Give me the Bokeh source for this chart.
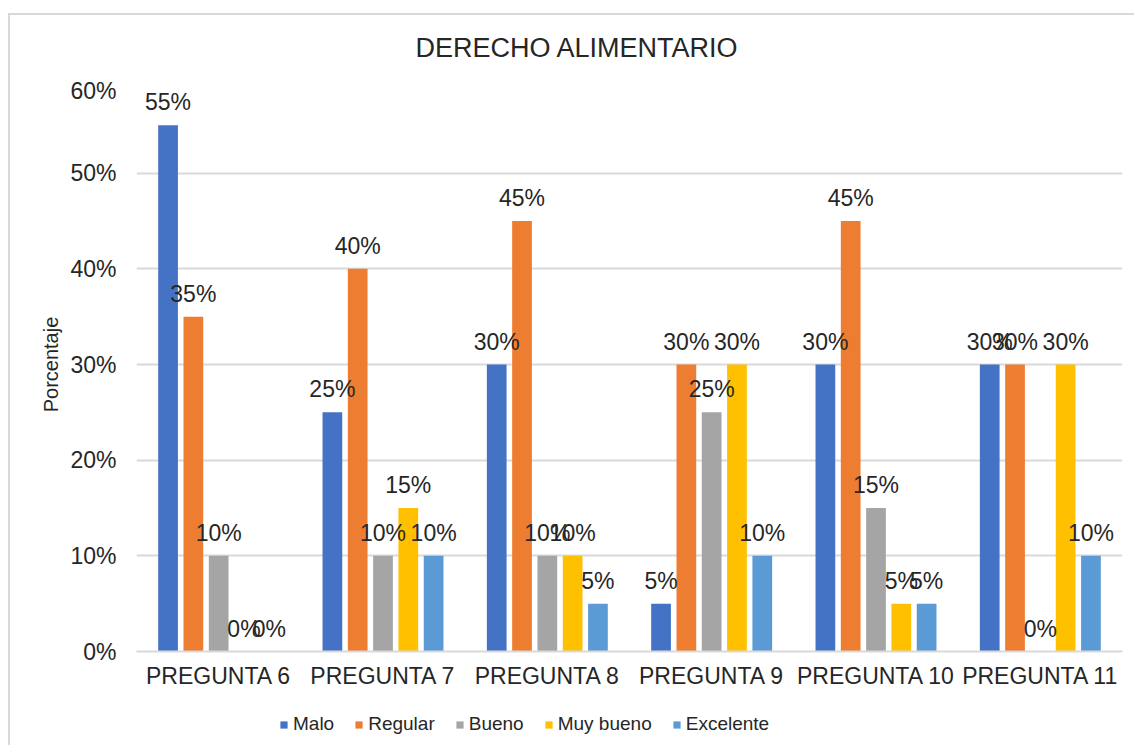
from bokeh.plotting import figure
from bokeh.layouts import column
from bokeh.core.properties import value
from bokeh.models import (ColumnDataSource, FactorRange, LabelSet, Label, Legend, LegendItem,
                          NumeralTickFormatter, FixedTicker, Range1d)
from bokeh.transform import dodge
from bokeh.embed import file_html
from bokeh.resources import INLINE

categories = ["PREGUNTA 6", "PREGUNTA 7", "PREGUNTA 8", "PREGUNTA 9", "PREGUNTA 10", "PREGUNTA 11"]
series_names = ["Malo", "Regular", "Bueno", "Muy bueno", "Excelente"]
malo = [0.55, 0.25, 0.30, 0.05, 0.30, 0.30]
regular = [0.35, 0.40, 0.45, 0.30, 0.45, 0.30]
bueno = [0.10, 0.10, 0.10, 0.25, 0.15, 0.00]
muy_bueno = [0.00, 0.15, 0.10, 0.30, 0.05, 0.30]
excelente = [0.00, 0.10, 0.05, 0.10, 0.05, 0.10]
y_ticks = [0.0, 0.1, 0.2, 0.3, 0.4, 0.5, 0.6]
title_text = "DERECHO ALIMENTARIO"
y_label = "Porcentaje"

colors = ["#4472C4", "#ED7D31", "#A5A5A5", "#FFC000", "#5B9BD5"]
FONT = "Liberation Sans"
TXT = "#262626"
W = 1124


def strip(h):
    f = figure(width=W, height=h, output_backend="svg", toolbar_location=None, title=None,
               x_axis_location=None, y_axis_location=None,
               min_border_left=0, min_border_right=0, min_border_top=0, min_border_bottom=0)
    f.outline_line_color = None
    f.xgrid.grid_line_color = None
    f.ygrid.grid_line_color = None
    return f


# title strip
t = strip(62)
t.add_layout(Label(x=279, y=30, x_units="screen", y_units="screen", text=title_text,
                   text_align="left", text_baseline="middle", text_font=FONT,
                   text_font_size="27px", text_color=TXT))

# main chart
p = figure(x_range=FactorRange(*categories, range_padding=0), y_range=Range1d(0, 0.6),
           width=W, height=628, output_backend="svg", toolbar_location=None, title=None,
           min_border_left=126, min_border_right=W - 1112, min_border_top=0, min_border_bottom=54)
p.outline_line_color = None

series = [malo, regular, bueno, muy_bueno, excelente]
offsets = [-0.308, -0.154, 0.0, 0.154, 0.308]
for name, vals, col, off in zip(series_names, series, colors, offsets):
    src = ColumnDataSource(dict(cat=categories, val=vals,
                                lab=[f"{round(v*100)}%" for v in vals]))
    p.vbar(x=dodge("cat", off, range=p.x_range), top="val", width=0.12, source=src,
           fill_color=col, line_color=None)
    ls = LabelSet(x=dodge("cat", off, range=p.x_range), y="val", text="lab", source=src,
                  text_align="center", text_baseline="middle", y_offset=23,
                  text_font=value(FONT), text_font_size=value("23px"), text_color=value(TXT))
    p.add_layout(ls)

p.yaxis.ticker = FixedTicker(ticks=y_ticks)
p.yaxis.formatter = NumeralTickFormatter(format="0%")
p.yaxis.axis_line_color = None
p.yaxis.major_tick_line_color = None
p.yaxis.minor_tick_line_color = None
p.yaxis.major_label_standoff = 14
p.yaxis.major_label_text_font = FONT
p.yaxis.major_label_text_font_size = "23px"
p.yaxis.major_label_text_color = TXT
p.yaxis.axis_label = y_label
p.yaxis.axis_label_text_font = FONT
p.yaxis.axis_label_text_font_size = "20px"
p.yaxis.axis_label_text_font_style = "normal"
p.yaxis.axis_label_text_color = TXT
p.yaxis.axis_label_standoff = 5

p.xaxis.axis_line_color = "#d9d9d9"
p.xaxis.axis_line_width = 2
p.xaxis.major_tick_line_color = None
p.xaxis.minor_tick_line_color = None
p.xaxis.major_label_standoff = 5
p.xaxis.major_label_text_font = FONT
p.xaxis.major_label_text_font_size = "23px"
p.xaxis.major_label_text_color = TXT

p.xgrid.grid_line_color = None
p.ygrid.grid_line_color = "#d9d9d9"
p.ygrid.grid_line_width = 2

# legend strip
q = strip(40)
q.x_range = Range1d(0, 1)
q.y_range = Range1d(0, 1)
items = []
for name, col in zip(series_names, colors):
    r = q.vbar(x=[0.5], top=[0], bottom=[0], width=0.0, fill_color=col, line_color=None)
    items.append(LegendItem(label=name, renderers=[r]))
legend = Legend(items=items, orientation="horizontal", location=(143, 10),
                glyph_width=9, glyph_height=9, label_standoff=5, spacing=20,
                padding=0, margin=0, border_line_color=None, background_fill_alpha=0,
                label_text_font=FONT, label_text_font_size="19px", label_text_color=TXT)
q.add_layout(legend, "center")

layout = column(t, p, q, spacing=0)
layout.margin = (13, 0, 0, 8)
layout.styles = {"border-top": "2px solid #d9d9d9", "border-left": "2px solid #d9d9d9"}

open("out.html", "w").write(file_html(layout, INLINE))
